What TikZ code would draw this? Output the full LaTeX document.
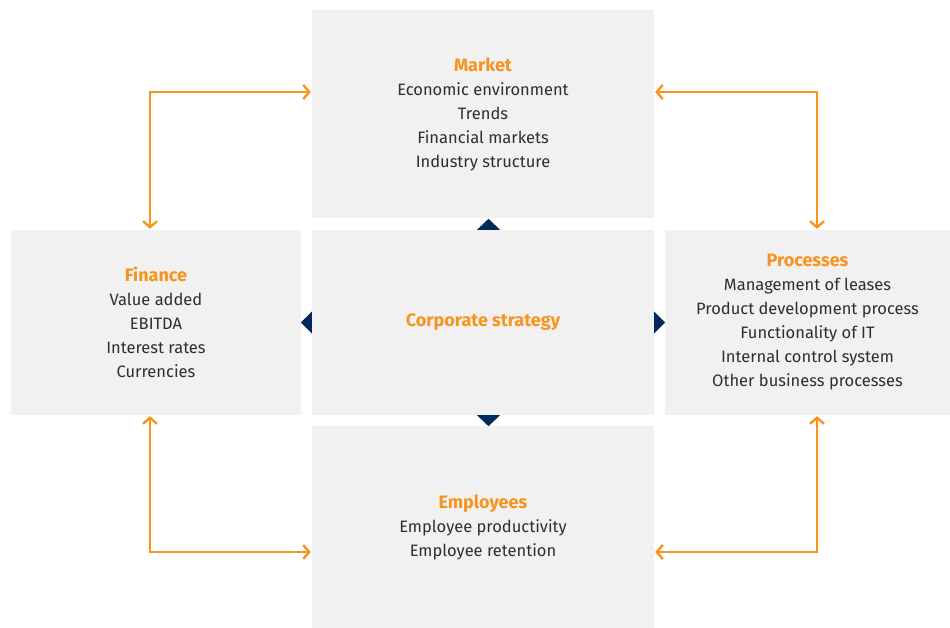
\documentclass[tikz,border=0pt]{standalone}
\usepackage{fontspec}
\setmainfont{Fira Sans}
\usetikzlibrary{arrows.meta}
\definecolor{boxgray}{HTML}{F1F1F1}
\definecolor{accent}{HTML}{F7941D}
\definecolor{navy}{HTML}{002A5C}
\definecolor{txtgray}{HTML}{2E2E2E}
\newcommand{\headline}[1]{\textcolor{accent}{\fontsize{18}{24}\selectfont\bfseries #1}}

\begin{document}
\begin{tikzpicture}[x=1pt,y=-1pt]
    \tikzstyle{area}=[fill=boxgray, inner sep=0pt, align=center, text=txtgray, font=\fontsize{16.5}{24}\selectfont]
    \tikzstyle{link}=[draw=accent, line width=2.4pt, {Straight Barb[length=6pt,width=14pt]}-{Straight Barb[length=6pt,width=14pt]}, shorten <=1pt, shorten >=1pt]
    \tikzstyle{tip}=[fill=navy]

    \useasboundingbox (0,0) rectangle (950,628);

    \node[area, minimum width=342pt, minimum height=208pt] (market) at (483,114)
        {\headline{Market}\\Economic environment\\Trends\\Financial markets\\Industry structure};
    \node[area, minimum width=342pt, minimum height=185pt] (core) at (483,322.5)
        {\headline{Corporate strategy}};
    \node[area, minimum width=290pt, minimum height=185pt] (finance) at (156,322.5)
        {\headline{Finance}\\Value added\\EBITDA\\Interest rates\\Currencies};
    \node[area, minimum width=285pt, minimum height=185pt] (processes) at (807.5,322.5)
        {\headline{Processes}\\Management of leases\\Product development process\\Functionality of IT\\Internal control system\\Other business processes};
    \node[area, minimum width=342pt, minimum height=202pt] (employees) at (483,527)
        {\headline{Employees}\\Employee productivity\\Employee retention};

    % navy pointers
    \fill[tip] ([xshift=-6pt]core.north) -- ([xshift=17pt]core.north) -- ([xshift=5.5pt,yshift=11pt]core.north) -- cycle;
    \fill[tip] ([xshift=-6pt]core.south) -- ([xshift=17pt]core.south) -- ([xshift=5.5pt,yshift=-11pt]core.south) -- cycle;
    \fill[tip] ([yshift=11pt]core.west) -- ([yshift=-11pt]core.west) -- ([xshift=-11pt]core.west) -- cycle;
    \fill[tip] ([yshift=11pt]core.east) -- ([yshift=-11pt]core.east) -- ([xshift=11pt]core.east) -- cycle;

    % orange links
    \draw[link] ([xshift=-6pt]finance.north) |- ([yshift=22pt]market.west);
    \draw[link] ([yshift=22pt]market.east) -| ([xshift=9.5pt]processes.north);
    \draw[link] ([xshift=-6pt]finance.south) |- ([yshift=-25pt]employees.west);
    \draw[link] ([yshift=-25pt]employees.east) -| ([xshift=9.5pt]processes.south);
\end{tikzpicture}
\end{document}
